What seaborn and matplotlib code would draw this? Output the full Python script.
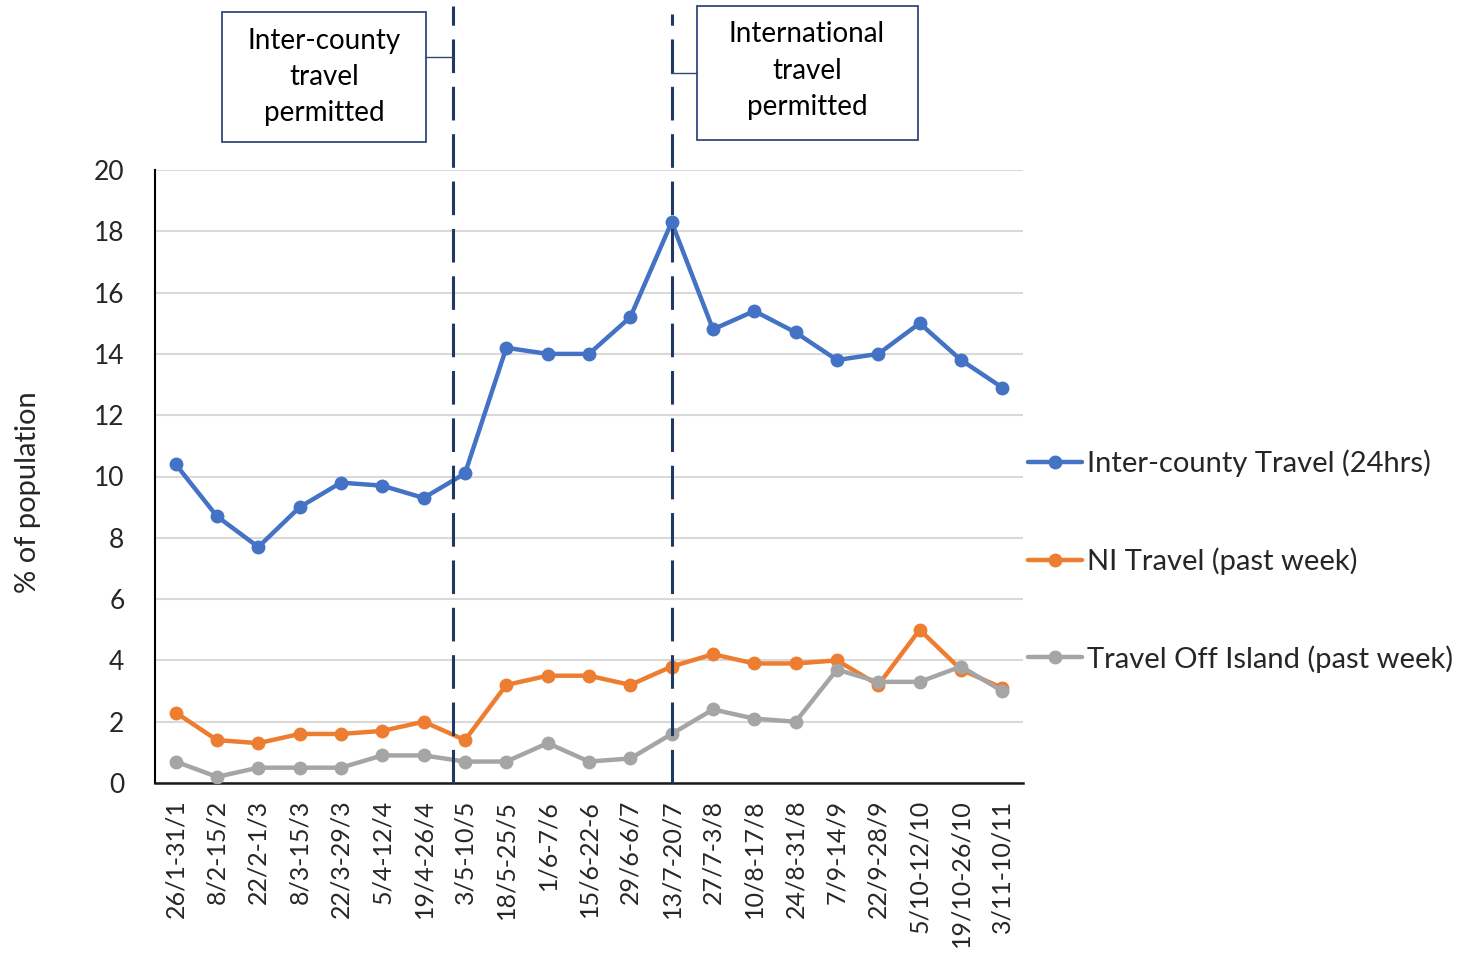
import matplotlib
matplotlib.use("Agg")
import matplotlib.pyplot as plt
import seaborn as sns
import pandas as pd

# Two-week survey periods
periods = ["26/1-31/1", "8/2-15/2", "22/2-1/3", "8/3-15/3", "22/3-29/3", "5/4-12/4",
           "19/4-26/4", "3/5-10/5", "18/5-25/5", "1/6-7/6", "15/6-22-6", "29/6-6/7",
           "13/7-20/7", "27/7-3/8", "10/8-17/8", "24/8-31/8", "7/9-14/9", "22/9-28/9",
           "5/10-12/10", "19/10-26/10", "3/11-10/11"]

inter_county = [10.4, 8.7, 7.7, 9.0, 9.8, 9.7, 9.3, 10.1, 14.2, 14.0, 14.0, 15.2,
                18.3, 14.8, 15.4, 14.7, 13.8, 14.0, 15.0, 13.8, 12.9]
ni_travel = [2.3, 1.4, 1.3, 1.6, 1.6, 1.7, 2.0, 1.4, 3.2, 3.5, 3.5, 3.2,
             3.8, 4.2, 3.9, 3.9, 4.0, 3.2, 5.0, 3.7, 3.1]
off_island = [0.7, 0.2, 0.5, 0.5, 0.5, 0.9, 0.9, 0.7, 0.7, 1.3, 0.7, 0.8,
              1.6, 2.4, 2.1, 2.0, 3.7, 3.3, 3.3, 3.8, 3.0]

series_names = ["Inter-county Travel (24hrs)", "NI Travel (past week)",
                "Travel Off Island (past week)"]
series_colors = ["#4472C4", "#ED7D31", "#A5A5A5"]

# Policy milestones (position on the period axis) and their notes
milestones = [6.7, 12.0]
milestone_notes = ["Inter-county\ntravel\npermitted", "International\ntravel\npermitted"]

sns.set_theme(style="white")
plt.rcParams["font.family"] = ["Lato", "DejaVu Sans"]

df = pd.concat([
    pd.DataFrame({"idx": range(len(periods)), "value": vals, "series": name})
    for name, vals in zip(series_names, [inter_county, ni_travel, off_island])
])

W, H = 1458, 969
fig = plt.figure(figsize=(W / 100, H / 100), dpi=100)
ax = fig.add_axes([155 / W, 1 - 783 / H, (1023 - 155) / W, (783 - 170) / H])

sns.lineplot(data=df, x="idx", y="value", hue="series", hue_order=series_names,
             palette=series_colors, marker="o", markersize=10, markeredgewidth=0,
             linewidth=3.2, sort=False, ax=ax, zorder=3)

ax.set_xlim(-0.5, len(periods) - 0.5)
ax.set_ylim(0, 20)
ax.set_yticks(range(0, 21, 2))
ax.set_xticks(range(len(periods)))
ax.set_xticklabels(periods, rotation=90, fontsize=18)
ax.tick_params(axis="y", labelsize=19, length=0, pad=22)
ax.tick_params(axis="x", length=0, pad=12)
ax.yaxis.grid(True, color="#D9D9D9", linewidth=1.5)
ax.set_axisbelow(True)
ax.set_xlabel("")
ax.set_ylabel("% of population", fontsize=21)
ax.yaxis.set_label_coords(-0.131, 0.475)
for side in ["top", "right"]:
    ax.spines[side].set_visible(False)
ax.spines["left"].set_color("black")
ax.spines["left"].set_linewidth(1.5)
ax.spines["bottom"].set_color("#1a1a1a")
ax.spines["bottom"].set_linewidth(1.8)

# Dashed milestone markers reaching up to the notes
navy = "#1F3864"
tops = [1.268, 1.254]
for xpos, top in zip(milestones, tops):
    ax.axvline(xpos, ymin=0, ymax=top, color=navy, linewidth=2.2,
               dashes=(11, 4.5), clip_on=False, zorder=4)

# Note boxes with short connectors to the dashed lines
box_cfg = [
    dict(center=(324, 77), box=(222, 12, 426, 142), conn=(426, 453, 57)),
    dict(center=(807, 71), box=(697, 6, 918, 140), conn=(671, 697, 73)),
]
for note, cfg in zip(milestone_notes, box_cfg):
    x0, y0, x1, y1 = cfg["box"]
    rect = plt.Rectangle((x0 / W, 1 - y1 / H), (x1 - x0) / W, (y1 - y0) / H,
                         transform=fig.transFigure, fill=False, edgecolor="#2F4A7A",
                         linewidth=1.3)
    fig.add_artist(rect)
    cx, cy = cfg["center"]
    fig.text(cx / W, 1 - cy / H, note, ha="center", va="center", fontsize=20,
             linespacing=1.5, color="black")
    a, b, yy = cfg["conn"]
    fig.add_artist(plt.Line2D([a / W, b / W], [1 - yy / H, 1 - yy / H],
                              transform=fig.transFigure, color="#2F4A7A", linewidth=1.0))

handles, labels = ax.get_legend_handles_labels()
leg = ax.legend(handles, labels, loc="center left", bbox_to_anchor=(0.996, 0.362),
                frameon=False, fontsize=21, handlelength=1.85, handletextpad=0.15,
                labelspacing=2.4, borderaxespad=0.1, borderpad=0.2)

fig.savefig("out.png", dpi=100)
